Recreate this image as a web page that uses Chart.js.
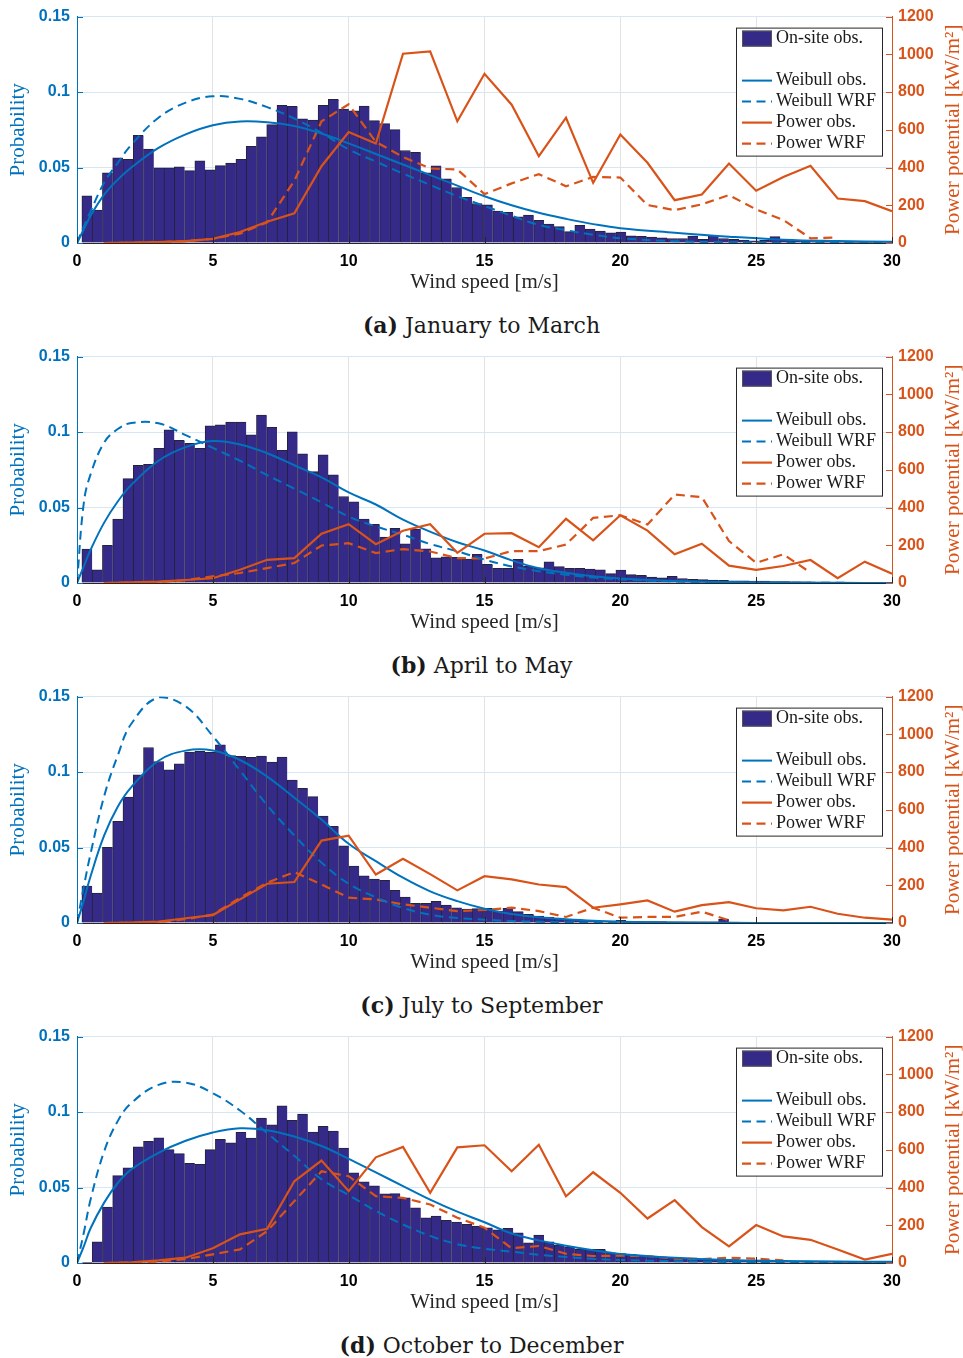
<!DOCTYPE html>
<html>
<head>
<meta charset="utf-8">
<script src="https://cdn.jsdelivr.net/npm/chart.js@4.4.1/dist/chart.umd.min.js"></script>
<style>
  body { margin: 0; background: #fff; width: 963px; }
  .panel { position: relative; width: 963px; height: 340px; }
  .panel canvas { position: absolute; left: 0; top: 0; }
  .caption {
    position: absolute; left: 0; top: 305px; width: 963px; height: 40px;
    line-height: 40px; text-align: center; color: #1a1a1a;
    font-family: 'DejaVu Serif', serif; font-size: 22px;
  }
</style>
</head>
<body>
<div class="panel"><canvas id="chartA" width="963" height="300"></canvas><div class="caption"><b>(a)</b> January to March</div></div>
<div class="panel"><canvas id="chartB" width="963" height="300"></canvas><div class="caption"><b>(b)</b> April to May</div></div>
<div class="panel"><canvas id="chartC" width="963" height="300"></canvas><div class="caption"><b>(c)</b> July to September</div></div>
<div class="panel"><canvas id="chartD" width="963" height="300"></canvas><div class="caption"><b>(d)</b> October to December</div></div>
<script>
/* ===== Axis ticks ===== */
const xTicks = [0, 5, 10, 15, 20, 25, 30];
const probTicks = [0, 0.05, 0.1, 0.15];
const powerTicks = [0, 200, 400, 600, 800, 1000, 1200];

/* ===== Histogram bins (m/s): 79 bins of 0.378 starting at 0.18 ===== */
const binStart = 0.18, binWidth = 0.378;
const binCenters = Array.from({ length: 79 }, (_, i) => +(binStart + binWidth * (i + 0.5)).toFixed(3));

/* ===== On-site observed histogram (probability per bin) ===== */
const histJanMar = [
  0.0313, 0.0218, 0.0465, 0.0564, 0.0555, 0.0714, 0.0623, 0.0498, 0.0498, 0.0504,
  0.0480, 0.0544, 0.0485, 0.0513, 0.0529, 0.0555, 0.0641, 0.0703, 0.0784, 0.0912,
  0.0906, 0.0822, 0.0815, 0.0912, 0.0952, 0.0888, 0.0875, 0.0907, 0.0811, 0.0791,
  0.0751, 0.0613, 0.0600, 0.0465, 0.0511, 0.0425, 0.0368, 0.0302, 0.0262, 0.0253,
  0.0212, 0.0203, 0.0174, 0.0185, 0.0150, 0.0126, 0.0108, 0.0075, 0.0117, 0.0093,
  0.0079, 0.0068, 0.0073, 0.0048, 0.0045, 0.0040, 0.0035, 0.0030, 0.0030, 0.0046,
  0.0025, 0.0050, 0.0030, 0.0025, 0.0020, 0.0015, 0.0018, 0.0042, 0.0020, 0.0015,
  0.0012, 0.0010, 0.0012, 0.0008, 0.0008, 0.0006, 0.0005, 0.0005, 0.0004
];
const histAprMay = [
  0.0225, 0.0088, 0.0249, 0.0423, 0.0692, 0.0780, 0.0786, 0.0892, 0.1015, 0.0945,
  0.0925, 0.0892, 0.1042, 0.1048, 0.1066, 0.1066, 0.0982, 0.1112, 0.1031, 0.0879,
  0.1002, 0.0855, 0.0738, 0.0850, 0.0716, 0.0573, 0.0537, 0.0423, 0.0388, 0.0304,
  0.0363, 0.0260, 0.0357, 0.0227, 0.0167, 0.0174, 0.0170, 0.0159, 0.0190, 0.0123,
  0.0097, 0.0097, 0.0156, 0.0112, 0.0101, 0.0141, 0.0108, 0.0097, 0.0097, 0.0093,
  0.0088, 0.0062, 0.0086, 0.0055, 0.0050, 0.0040, 0.0035, 0.0044, 0.0030, 0.0025,
  0.0022, 0.0020, 0.0018, 0.0015, 0.0015, 0.0012, 0.0012, 0.0010, 0.0010, 0.0008,
  0.0008, 0.0006, 0.0006, 0.0005, 0.0004, 0.0004, 0.0003, 0.0003, 0.0002
];
const histJulSep = [
  0.0244, 0.0198, 0.0502, 0.0674, 0.0835, 0.0982, 0.1163, 0.1070, 0.1015, 0.1055,
  0.1132, 0.1137, 0.1130, 0.1181, 0.1110, 0.1104, 0.1097, 0.1106, 0.1066, 0.1099,
  0.0947, 0.0892, 0.0837, 0.0709, 0.0641, 0.0511, 0.0377, 0.0313, 0.0291, 0.0282,
  0.0216, 0.0172, 0.0130, 0.0130, 0.0143, 0.0119, 0.0101, 0.0093, 0.0095, 0.0097,
  0.0079, 0.0097, 0.0075, 0.0057, 0.0046, 0.0040, 0.0030, 0.0024, 0.0018, 0.0018,
  0.0013, 0.0013, 0.0018, 0.0010, 0.0010, 0.0009, 0.0009, 0.0008, 0.0008, 0.0008,
  0.0008, 0.0008, 0.0026, 0.0006, 0.0005, 0.0005, 0.0004, 0.0004, 0.0003, 0.0003,
  0.0003, 0.0002, 0.0002, 0.0002, 0.0002, 0.0001, 0.0001, 0.0001, 0.0001
];
const histOctDec = [
  0.0005, 0.0141, 0.0370, 0.0579, 0.0630, 0.0769, 0.0806, 0.0830, 0.0751, 0.0725,
  0.0661, 0.0654, 0.0751, 0.0819, 0.0797, 0.0866, 0.0828, 0.0960, 0.0916, 0.1042,
  0.0945, 0.0987, 0.0868, 0.0905, 0.0874, 0.0762, 0.0597, 0.0537, 0.0511, 0.0458,
  0.0460, 0.0432, 0.0366, 0.0300, 0.0311, 0.0282, 0.0271, 0.0256, 0.0245, 0.0233,
  0.0220, 0.0229, 0.0200, 0.0134, 0.0185, 0.0141, 0.0119, 0.0106, 0.0090, 0.0090,
  0.0090, 0.0068, 0.0062, 0.0057, 0.0053, 0.0046, 0.0040, 0.0035, 0.0030, 0.0030,
  0.0026, 0.0024, 0.0022, 0.0022, 0.0018, 0.0018, 0.0015, 0.0012, 0.0010, 0.0010,
  0.0009, 0.0008, 0.0007, 0.0006, 0.0006, 0.0005, 0.0005, 0.0004, 0.0004
];

/* ===== Weibull fits, sampled at weibullX ===== */
const weibullX = [0, 0.25, 0.5, 1, 1.5, 2, 3, 4, 5, 6, 7, 8, 9, 10, 11, 12, 13, 14, 15, 16, 17, 18, 19, 20, 22, 24, 26, 28, 30];
const weibObsJanMar = [0, 0.009, 0.018, 0.032, 0.042, 0.050, 0.063, 0.072, 0.078, 0.0805, 0.080, 0.0775, 0.0725, 0.066, 0.059, 0.052, 0.045, 0.038, 0.031, 0.025, 0.020, 0.016, 0.0125, 0.0098, 0.0068, 0.0042, 0.0022, 0.0013, 0.0008];
const weibWrfJanMar = [0, 0.011, 0.021, 0.040, 0.053, 0.065, 0.083, 0.093, 0.0972, 0.0955, 0.090, 0.0825, 0.073, 0.062, 0.054, 0.046, 0.0385, 0.031, 0.0245, 0.018, 0.012, 0.0085, 0.0055, 0.0032, 0.0012, 0.0005, 0.0002, 0.0001, 0];
const weibObsAprMay = [0, 0.011, 0.022, 0.040, 0.054, 0.065, 0.081, 0.090, 0.094, 0.0918, 0.086, 0.078, 0.070, 0.060, 0.052, 0.042, 0.034, 0.027, 0.0215, 0.015, 0.0098, 0.0068, 0.0045, 0.003, 0.0013, 0.0006, 0.0003, 0.0001, 0];
const weibWrfAprMay = [0, 0.053, 0.072, 0.093, 0.102, 0.106, 0.1058, 0.098, 0.0895, 0.081, 0.0715, 0.0625, 0.0535, 0.044, 0.0375, 0.032, 0.0258, 0.021, 0.0155, 0.011, 0.0078, 0.0055, 0.0036, 0.0024, 0.001, 0.0004, 0.0002, 0.0001, 0];
const weibObsJulSep = [0, 0.015, 0.031, 0.058, 0.077, 0.090, 0.1075, 0.1142, 0.1143, 0.108, 0.097, 0.083, 0.0685, 0.0525, 0.041, 0.030, 0.021, 0.0145, 0.0095, 0.006, 0.0038, 0.0025, 0.0015, 0.0009, 0.0003, 0.0001, 0, 0, 0];
const weibWrfJulSep = [0, 0.024, 0.046, 0.084, 0.111, 0.132, 0.1495, 0.1435, 0.1238, 0.101, 0.078, 0.058, 0.040, 0.026, 0.017, 0.010, 0.0055, 0.0033, 0.0022, 0.0013, 0.0008, 0.0005, 0.0003, 0.0002, 0, 0, 0, 0, 0];
const weibObsOctDec = [0, 0.011, 0.023, 0.040, 0.053, 0.062, 0.073, 0.081, 0.0865, 0.0893, 0.088, 0.0838, 0.0775, 0.069, 0.060, 0.051, 0.042, 0.034, 0.027, 0.0195, 0.015, 0.0115, 0.0085, 0.006, 0.0034, 0.002, 0.0014, 0.001, 0.0008];
const weibWrfOctDec = [0, 0.020, 0.042, 0.074, 0.094, 0.106, 0.118, 0.1195, 0.1125, 0.101, 0.086, 0.071, 0.0555, 0.045, 0.0345, 0.0255, 0.018, 0.0125, 0.0095, 0.0075, 0.0055, 0.004, 0.0028, 0.002, 0.0012, 0.0007, 0.0004, 0.0002, 0.0001];

/* ===== Power potential (kW/m2) at integer wind speeds from 1 m/s ===== */
const powerX = [1, 2, 3, 4, 5, 6, 7, 8, 9, 10, 11, 12, 13, 14, 15, 16, 17, 18, 19, 20, 21, 22, 23, 24, 25, 26, 27, 28, 29, 30];
const powObsJanMar = [0, 2, 5, 10, 22, 58, 113, 157, 407, 588, 527, 1003, 1016, 645, 897, 733, 460, 664, 319, 575, 425, 227, 257, 421, 277, 350, 409, 236, 222, 169];
const powWrfJanMar = [0, 1, 4, 10, 22, 50, 110, 330, 645, 735, 536, 456, 395, 390, 259, 316, 365, 301, 350, 347, 201, 174, 205, 254, 178, 122, 25, 30];
const powObsAprMay = [0, 3, 7, 16, 25, 70, 123, 132, 261, 312, 206, 277, 312, 160, 261, 264, 190, 340, 226, 359, 278, 152, 208, 92, 70, 90, 122, 25, 113, 49];
const powWrfAprMay = [0, 2, 5, 15, 35, 53, 79, 106, 199, 211, 159, 180, 167, 132, 130, 169, 169, 204, 345, 359, 310, 469, 455, 222, 107, 152, 55];
const powObsJulSep = [0, 2, 7, 25, 42, 125, 208, 217, 437, 463, 257, 340, 259, 173, 248, 231, 204, 190, 81, 99, 120, 60, 95, 111, 78, 67, 86, 49, 28, 18];
const powWrfJulSep = [0, 1, 5, 20, 45, 134, 213, 270, 204, 134, 125, 99, 81, 63, 69, 81, 63, 32, 81, 28, 32, 32, 60, 14];
const powObsOctDec = [0, 4, 14, 28, 78, 152, 181, 433, 543, 381, 560, 615, 372, 613, 624, 486, 627, 354, 481, 372, 236, 333, 190, 88, 201, 141, 123, 72, 18, 49];
const powWrfOctDec = [0, 2, 8, 20, 46, 72, 169, 328, 486, 460, 354, 345, 310, 240, 187, 78, 90, 49, 37, 39, 37, 23, 21, 28, 23, 14];

/* ===== Colours (MATLAB defaults) ===== */
const BLUE = '#0072BD';
const ORANGE = '#D95319';
const BAR = '#352A87';
const TICK_FONT = { family: "'Liberation Sans', Arial, sans-serif", size: 16, weight: 'bold' };
const SERIF = "'Liberation Serif', 'Times New Roman', serif";

function pts(xs, ys) {
  return ys.map((v, i) => ({ x: xs[i], y: v }));
}

/* small inward tick marks, like MATLAB axes */
const innerTicks = {
  id: 'innerTicks',
  afterDatasetsDraw(chart) {
    const { ctx, chartArea: a, scales } = chart;
    const len = 6;
    ctx.save();
    ctx.lineWidth = 1;
    ctx.strokeStyle = '#262626';
    scales.x.ticks.forEach(t => {
      const px = Math.round(scales.x.getPixelForValue(t.value)) + 0.5;
      ctx.beginPath(); ctx.moveTo(px, a.bottom); ctx.lineTo(px, a.bottom - len); ctx.stroke();
    });
    ctx.strokeStyle = BLUE;
    scales.y.ticks.forEach(t => {
      const py = Math.round(scales.y.getPixelForValue(t.value)) + 0.5;
      ctx.beginPath(); ctx.moveTo(a.left, py); ctx.lineTo(a.left + len, py); ctx.stroke();
    });
    ctx.strokeStyle = ORANGE;
    scales.y1.ticks.forEach(t => {
      const py = Math.round(scales.y1.getPixelForValue(t.value)) + 0.5;
      ctx.beginPath(); ctx.moveTo(a.right, py); ctx.lineTo(a.right - len, py); ctx.stroke();
    });
    ctx.restore();
  }
};

/* right axis title reads bottom-to-top, like the left one */
const rightTitle = {
  id: 'rightTitle',
  afterDraw(chart, args, opts) {
    const { ctx, chartArea: a } = chart;
    ctx.save();
    ctx.translate(chart.width - 10, (a.top + a.bottom) / 2);
    ctx.rotate(-Math.PI / 2);
    ctx.font = '21px ' + SERIF;
    ctx.fillStyle = ORANGE;
    ctx.textAlign = 'center';
    ctx.textBaseline = 'middle';
    ctx.fillText(opts.text, 0, 0);
    ctx.restore();
  }
};

/* boxed legend in the top-right corner, blank row after the histogram entry */
const boxLegend = {
  id: 'boxLegend',
  afterDraw(chart) {
    const { ctx, chartArea: a } = chart;
    const w = 146, h = 128;
    const x0 = a.right - 10 - w, y0 = a.top + 11;
    ctx.save();
    ctx.fillStyle = '#fff';
    ctx.fillRect(x0, y0, w, h);
    ctx.strokeStyle = '#262626';
    ctx.lineWidth = 1;
    ctx.strokeRect(x0 + 0.5, y0 + 0.5, w, h);
    ctx.font = '18px ' + SERIF;
    ctx.textBaseline = 'middle';
    let y = y0 + 11;
    chart.data.datasets.forEach(ds => {
      if (ds.type === 'bar') {
        ctx.fillStyle = ds.backgroundColor;
        ctx.fillRect(x0 + 6, y - 8, 30, 16);
        ctx.strokeStyle = '#555';
        ctx.strokeRect(x0 + 6.5, y - 7.5, 29, 15);
      } else {
        ctx.strokeStyle = ds.borderColor;
        ctx.lineWidth = ds.borderWidth;
        ctx.setLineDash(ds.borderDash || []);
        ctx.beginPath(); ctx.moveTo(x0 + 6, y); ctx.lineTo(x0 + 36, y); ctx.stroke();
        ctx.setLineDash([]);
      }
      ctx.fillStyle = '#1a1a1a';
      ctx.fillText(ds.label, x0 + 40, y);
      y += ds.type === 'bar' ? 42 : 21;
    });
    ctx.restore();
  }
};

function makeChart(id, hist, wObs, wWrf, pObs, pWrf) {
  const ctx = document.getElementById(id).getContext('2d');
  const dash = [9, 5.5];
  return new Chart(ctx, {
    type: 'line',
    data: {
      datasets: [
        {
          type: 'bar', label: 'On-site obs.', data: pts(binCenters, hist), yAxisID: 'y',
          backgroundColor: BAR, borderColor: '#23233a',
          borderWidth: { top: 1, left: 1, right: 0, bottom: 0 },
          barPercentage: 1, categoryPercentage: 1, order: 5
        },
        {
          label: 'Weibull obs.', data: pts(weibullX, wObs), yAxisID: 'y',
          borderColor: BLUE, borderWidth: 2, pointRadius: 0, tension: 0.4, order: 1
        },
        {
          label: 'Weibull WRF', data: pts(weibullX, wWrf), yAxisID: 'y',
          borderColor: BLUE, borderWidth: 2, borderDash: dash, pointRadius: 0, tension: 0.4, order: 2
        },
        {
          label: 'Power obs.', data: pts(powerX, pObs), yAxisID: 'y1',
          borderColor: ORANGE, borderWidth: 2.2, pointRadius: 0, tension: 0, order: 0
        },
        {
          label: 'Power WRF', data: pts(powerX, pWrf), yAxisID: 'y1',
          borderColor: ORANGE, borderWidth: 2.2, borderDash: dash, pointRadius: 0, tension: 0, order: 3
        }
      ]
    },
    options: {
      responsive: false,
      animation: false,
      layout: { padding: { top: 16, left: 0, right: 0, bottom: 0 } },
      plugins: {
        legend: { display: false },
        tooltip: { enabled: false },
        rightTitle: { text: 'Power potential [kW/m²]' }
      },
      scales: {
        x: {
          type: 'linear', min: 0, max: 30, offset: false,
          afterBuildTicks: s => { s.ticks = xTicks.map(v => ({ value: v })); },
          afterFit: s => { s.height = 57; },
          grid: { color: '#E2E2E2', drawTicks: false, offset: false },
          border: { color: '#262626', width: 1 },
          ticks: { color: '#000', font: TICK_FONT, padding: 9, maxRotation: 0, callback: v => String(v) },
          title: {
            display: true, text: 'Wind speed [m/s]', color: '#262626',
            font: { family: SERIF, size: 21 }, padding: { top: 0, bottom: 5 }
          }
        },
        y: {
          type: 'linear', position: 'left', min: 0, max: 0.15,
          afterBuildTicks: s => { s.ticks = probTicks.map(v => ({ value: v })); },
          afterFit: s => { s.width = 77; },
          grid: { color: '#D6E7F3', drawTicks: false },
          border: { color: BLUE, width: 1 },
          ticks: { color: BLUE, font: TICK_FONT, padding: 7, callback: v => String(v) },
          title: {
            display: true, text: 'Probability', color: BLUE,
            font: { family: SERIF, size: 21 }, padding: { top: 6, bottom: 0 }
          }
        },
        y1: {
          type: 'linear', position: 'right', min: 0, max: 1200,
          afterBuildTicks: s => { s.ticks = powerTicks.map(v => ({ value: v })); },
          afterFit: s => { s.width = 71; },
          grid: { display: false, drawTicks: false },
          border: { color: ORANGE, width: 1 },
          ticks: { color: ORANGE, font: TICK_FONT, padding: 6, callback: v => String(v) }
        }
      }
    },
    plugins: [innerTicks, boxLegend, rightTitle]
  });
}

makeChart('chartA', histJanMar, weibObsJanMar, weibWrfJanMar, powObsJanMar, powWrfJanMar);
makeChart('chartB', histAprMay, weibObsAprMay, weibWrfAprMay, powObsAprMay, powWrfAprMay);
makeChart('chartC', histJulSep, weibObsJulSep, weibWrfJulSep, powObsJulSep, powWrfJulSep);
makeChart('chartD', histOctDec, weibObsOctDec, weibWrfOctDec, powObsOctDec, powWrfOctDec);
</script>
</body>
</html>
